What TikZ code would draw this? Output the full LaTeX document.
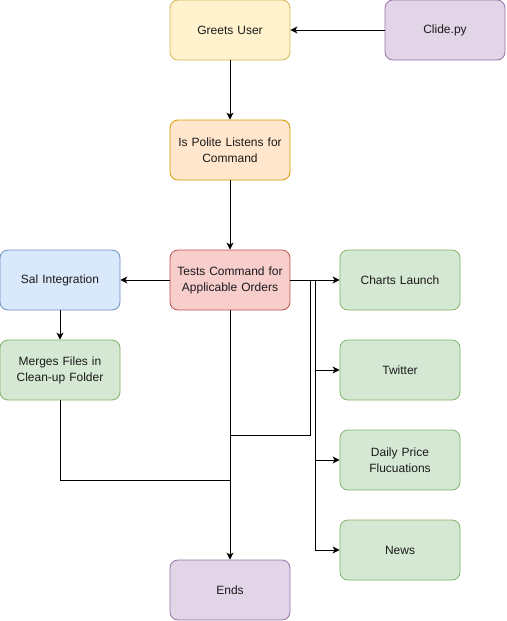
\documentclass[tikz,border=0pt]{standalone}
\usepackage{fontspec}
\setmainfont{Liberation Sans}
\usetikzlibrary{arrows.meta}
\definecolor{yelF}{HTML}{FFF2CC}\definecolor{yelD}{HTML}{D6B656}
\definecolor{purF}{HTML}{E1D5E7}\definecolor{purD}{HTML}{9673A6}
\definecolor{orF}{HTML}{FFE6CC}\definecolor{orD}{HTML}{D79B00}
\definecolor{redF}{HTML}{F8CECC}\definecolor{redD}{HTML}{B85450}
\definecolor{bluF}{HTML}{DAE8FC}\definecolor{bluD}{HTML}{6C8EBF}
\definecolor{grnF}{HTML}{D5E8D4}\definecolor{grnD}{HTML}{82B366}
\definecolor{txt}{HTML}{1A1A1A}
\tikzset{
  box/.style={draw, line width=0.8pt, rounded corners=8pt, minimum width=120pt, minimum height=60pt,
    inner sep=0pt, text width=118pt, align=center, font=\fontsize{12pt}{16pt}\selectfont, text=txt},
  yel/.style={box, fill=yelF, draw=yelD},
  pur/.style={box, fill=purF, draw=purD},
  ora/.style={box, fill=orF, draw=orD},
  rdd/.style={box, fill=redF, draw=redD},
  blu/.style={box, fill=bluF, draw=bluD},
  grn/.style={box, fill=grnF, draw=grnD},
  arr/.style={line width=0.9pt, -{Stealth[length=7pt,width=7pt,inset=2pt]}},
  ln/.style={line width=0.9pt}
}
\begin{document}
\begin{tikzpicture}[x=1pt,y=-1pt]
\useasboundingbox (0,0) rectangle (506,621);
\node[yel] (greets) at (230,30) {Greets User};
\node[pur] (clide) at (445,30) {Clide.py};
\node[ora] (polite) at (230,150) {Is Polite Listens for\\Command};
\node[rdd] (tests) at (230,280) {Tests Command for\\Applicable Orders};
\node[blu] (sal) at (60,280) {Sal Integration};
\node[grn] (merges) at (60,370) {Merges Files in\\Clean-up Folder};
\node[grn] (charts) at (400,280) {Charts Launch};
\node[grn] (twitter) at (400,370) {Twitter};
\node[grn] (daily) at (400,460) {Daily Price\\Flucuations};
\node[grn] (news) at (400,550) {News};
\node[pur] (ends) at (230,590) {Ends};
\coordinate (ja) at (315,280);
\coordinate (jb) at (310,280);
\coordinate (jc) at (230,435);
\coordinate (jd) at (230,480);
\draw[arr] (clide) -- (greets);
\draw[arr] (greets) -- (polite);
\draw[arr] (polite) -- (tests);
\draw[arr] (tests) -- (sal);
\draw[arr] (sal) -- (merges);
\draw[arr] (tests) -- (charts);
\draw[arr] (tests.east) -- (ja) |- (twitter.west);
\draw[arr] (tests.east) -- (ja) |- (daily.west);
\draw[arr] (tests.east) -- (ja) |- (news.west);
\draw[arr] (tests) -- (ends);
\draw[ln] (tests.east) -- (jb) |- (jc);
\draw[ln] (merges.south) |- (jd);
\end{tikzpicture}
\end{document}
